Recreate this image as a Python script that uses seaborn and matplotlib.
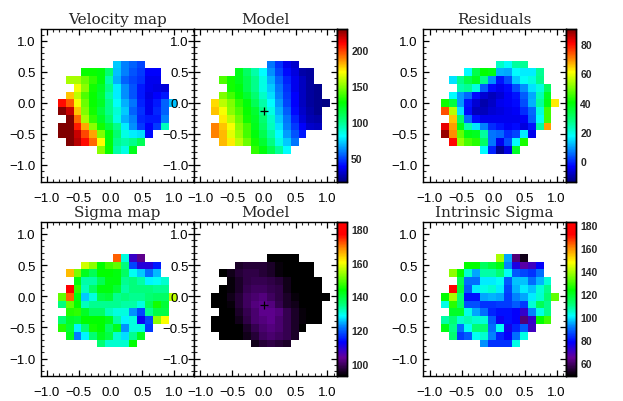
import numpy as np
import pandas as pd
import matplotlib
matplotlib.use('Agg')
import matplotlib.pyplot as plt
from matplotlib.colors import LinearSegmentedColormap
from matplotlib.ticker import NullFormatter
import seaborn as sns

# first column and pixel values of every row of the map (top row first)
row_first = [7, 3, 1, 2, 1, 0, 0, 1, 0, 0, 1, 5]

velocity_map = [
    [72, 60, 55, 50],
    [128, 128, 125, 105, 70, 60, 52, 48, 38, 38],
    [155, 155, 145, 135, 125, 95, 68, 55, 50, 46, 36, 36],
    [167, 150, 130, 120, 100, 78, 62, 52, 42, 36, 34, 32],
    [178, 158, 140, 128, 118, 95, 78, 62, 52, 42, 34, 38, 42],
    [208, 195, 168, 145, 128, 120, 100, 82, 68, 58, 44, 36, 42, 55, 70],
    [228, 218, 178, 148, 130, 115, 100, 88, 72, 55, 46, 36, 45, 55],
    [229, 192, 155, 135, 120, 105, 85, 68, 60, 45, 42, 42, 60],
    [229, 229, 205, 182, 150, 130, 115, 100, 78, 62, 48, 38, 48, 92],
    [229, 229, 218, 198, 183, 148, 125, 105, 85, 78, 75, 40],
    [229, 220, 208, 192, 170, 125, 100, 95, 100, 110],
    [150, 128, 95, 85, 122],
]
velocity_model = [
    [58, 46, 36, 30],
    [122, 108, 95, 80, 62, 50, 40, 33, 24, 22],
    [140, 130, 122, 112, 100, 85, 68, 55, 44, 36, 28, 22],
    [130, 125, 112, 100, 85, 72, 58, 46, 36, 28, 22, 20],
    [148, 138, 128, 118, 105, 90, 75, 60, 48, 38, 28, 22, 20],
    [175, 158, 148, 135, 125, 110, 95, 80, 64, 50, 38, 28, 22, 20, 18],
    [178, 168, 150, 140, 128, 118, 100, 85, 68, 54, 40, 30, 24, 20],
    [172, 158, 145, 130, 120, 105, 90, 72, 58, 44, 32, 26, 24],
    [188, 178, 168, 150, 138, 122, 108, 92, 76, 60, 48, 38, 30, 28],
    [188, 180, 165, 152, 138, 125, 112, 96, 80, 65, 52, 42],
    [180, 172, 158, 145, 130, 118, 102, 85, 72, 58],
    [135, 125, 112, 98, 80],
]
residuals = [
    [22, 18, 25, 26],
    [17, 33, 40, 38, 11, 10, 17, 16, 16, 26],
    [15, 27, 33, 37, 27, 8, -2, 3, 13, 18, 20, 27],
    [24, 26, 20, 4, -3, -5, -3, 3, 8, 15, 20, 31],
    [17, 9, 5, -3, -7, -9, -7, -4, -2, 4, 10, 23, 37],
    [41, 34, 9, -2, -7, -10, -8, -5, -4, -3, 3, 11, 25, 38, 62],
    [74, 55, 15, -3, -9, -9, -7, -6, -5, -4, 0, 5, 20, 45],
    [65, 30, 5, -3, -5, -5, -5, -5, -5, -4, 4, 18, 45],
    [82, 68, 38, 24, 15, 7, 0, -2, -4, -3, -6, -2, 25, 68],
    [88, 69, 48, 38, 37, 25, 6, 5, 0, 2, 16, -5],
    [80, 52, 46, 43, 30, 6, -5, 3, 17, 42],
    [17, -1, -12, -6, 36],
]
sigma_map = [
    [171, 130, 108, 103],
    [157, 153, 144, 148, 150, 135, 118, 110, 110, 115],
    [165, 152, 142, 138, 144, 144, 143, 137, 129, 126, 121, 125],
    [143, 133, 133, 138, 143, 143, 134, 135, 133, 128, 129, 131],
    [177, 147, 132, 137, 143, 143, 140, 133, 135, 135, 135, 134, 134],
    [150, 171, 143, 126, 130, 139, 140, 134, 135, 134, 134, 136, 137, 137, 156],
    [135, 150, 144, 132, 134, 134, 134, 134, 133, 133, 130, 138, 145, 140],
    [146, 147, 141, 137, 137, 132, 130, 130, 123, 118, 134, 139, 139],
    [136, 141, 140, 144, 144, 144, 142, 133, 128, 130, 112, 118, 153, 160],
    [146, 140, 128, 136, 145, 144, 137, 142, 123, 130, 130, 117],
    [142, 122, 128, 136, 142, 139, 131, 127, 134, 142],
    [136, 131, 131, 131, 144],
]
sigma_model = [
    [93, 93, 93, 93],
    [96, 97, 97, 97, 96, 94, 93, 93, 93, 93],
    [93, 95, 97, 98, 98, 97, 96, 94, 93, 93, 93, 93],
    [94, 96, 98, 99, 99, 98, 97, 95, 93, 93, 93, 93],
    [93, 94, 96, 99, 100, 100, 99, 98, 95, 93, 93, 93, 93],
    [93, 93, 95, 97, 100, 101, 102, 100, 98, 96, 94, 93, 93, 93, 93],
    [93, 93, 94, 97, 100, 102, 103, 102, 99, 96, 95, 93, 93, 93],
    [93, 93, 96, 99, 101, 103, 103, 102, 99, 96, 94, 93, 93],
    [93, 93, 93, 95, 98, 101, 102, 103, 101, 99, 96, 94, 93, 93],
    [93, 93, 93, 93, 96, 99, 101, 102, 101, 99, 96, 93],
    [93, 93, 93, 95, 97, 100, 101, 100, 99, 96],
    [95, 97, 98, 97, 96],
]
intrinsic_sigma = [
    [140, 95, 62, 52],
    [124, 124, 114, 118, 122, 92, 75, 67, 70, 78],
    [137, 124, 105, 95, 108, 108, 112, 102, 88, 86, 84, 90],
    [115, 90, 90, 100, 100, 102, 88, 97, 97, 90, 96, 104],
    [172, 118, 88, 100, 103, 105, 100, 86, 96, 100, 97, 104, 110],
    [124, 140, 112, 80, 80, 95, 96, 95, 85, 92, 95, 100, 105, 112, 133],
    [103, 128, 113, 87, 87, 84, 84, 85, 85, 88, 85, 104, 115, 110],
    [120, 120, 103, 95, 90, 82, 80, 80, 78, 72, 92, 103, 110],
    [108, 112, 105, 107, 105, 104, 88, 77, 80, 78, 62, 72, 124, 130],
    [122, 110, 90, 102, 112, 112, 90, 102, 76, 82, 88, 70],
    [112, 85, 88, 102, 105, 92, 82, 78, 90, 103],
    [93, 84, 84, 84, 103],
]

axis_ticks = [-1.0, -0.5, 0.0, 0.5, 1.0]
velocity_ticks = [50, 100, 150, 200]
residual_ticks = [0, 20, 40, 60, 80]
sigma_ticks = [100, 120, 140, 160, 180]
intrinsic_ticks = [60, 80, 100, 120, 140, 160, 180]

W, H = 623, 402
X0, DX = -0.83, 0.125    # left edge and width of a map pixel
Y0, DY = 0.68, 0.125     # top edge and height of a map pixel

blue_red = LinearSegmentedColormap.from_list('blue_red', [
    (0.0, (0, 0, 0.5)), (0.1, (0, 0, 1)), (0.2, (0, 0.5, 1)), (0.3, (0, 1, 1)),
    (0.4, (0, 1, 0.5)), (0.52, (0, 1, 0)), (0.72, (1, 1, 0)), (0.8, (1, 0.55, 0)),
    (0.91, (1, 0, 0)), (1.0, (0.5, 0, 0))])
rainbow = LinearSegmentedColormap.from_list('idl_rainbow', [
    (0.0, (0, 0, 0)), (0.12, (0.4, 0, 0.6)), (0.22, (0, 0, 1)), (0.32, (0, 0.5, 1)),
    (0.39, (0, 1, 1)), (0.46, (0, 1, 0.5)), (0.56, (0, 1, 0)), (0.74, (1, 1, 0)),
    (0.83, (1, 0.55, 0)), (0.92, (1, 0, 0)), (1.0, (1, 0, 0))])

sns.set_style('white')
plt.rcParams['font.family'] = ['Liberation Sans', 'DejaVu Sans']


def to_frame(rows):
    grid = np.full((12, 15), np.nan)
    for r, vals in enumerate(rows):
        grid[r, row_first[r]:row_first[r] + len(vals)] = vals
    return pd.DataFrame(grid)


def px_axes(left, right, top, bottom):
    return fig.add_axes([left / W, 1 - bottom / H, (right - left) / W, (bottom - top) / H])


def draw_panel(rows, box, xlim, title, cmap, vmin, vmax, cbar_box=None, cbar_ticks=None, cross=False):
    ax = px_axes(*box)
    cax = px_axes(*cbar_box) if cbar_box else None
    sns.heatmap(to_frame(rows), ax=ax, cmap=cmap, vmin=vmin, vmax=vmax,
                cbar=cax is not None, cbar_ax=cax,
                xticklabels=False, yticklabels=False)
    # heatmap works in cell numbers, so the arcsec axes are converted to them
    to_cx = lambda v: (np.asarray(v) - X0) / DX
    to_cy = lambda v: (Y0 - np.asarray(v)) / DY
    ax.set_xlim(to_cx(xlim[0]), to_cx(xlim[1]))
    ax.set_ylim(to_cy(-1.28), to_cy(1.19))
    ax.set_xticks(to_cx(axis_ticks))
    ax.set_yticks(to_cy(axis_ticks))
    labels = [f'{t:.1f}'.replace('-', '\u2212') for t in axis_ticks]
    ax.set_xticklabels(labels, fontsize=9.5)
    ax.set_yticklabels(labels, fontsize=9.5)
    minor_x = np.arange(-1.0, 1.35, 0.1)
    minor_y = np.arange(-1.2, 1.2, 0.1)
    ax.set_xticks(to_cx(minor_x[minor_x < xlim[1]]), minor=True)
    ax.set_yticks(to_cy(minor_y), minor=True)
    ax.xaxis.set_minor_formatter(NullFormatter())
    ax.yaxis.set_minor_formatter(NullFormatter())
    ax.tick_params(which='major', direction='in', length=4, width=0.9, top=True, right=True,
                   bottom=True, left=True, colors='black')
    ax.tick_params(axis='x', which='major', pad=7)
    ax.tick_params(axis='y', which='major', pad=4)
    ax.tick_params(which='minor', direction='in', length=2, width=0.8, top=True, right=True,
                   bottom=True, left=True)
    for s in ax.spines.values():
        s.set_visible(True)
        s.set_linewidth(1.0)
        s.set_color('black')
    ax.set_title(title, family='DejaVu Serif', fontsize=11, pad=4)
    if cross:
        ax.plot(to_cx(0.0), to_cy(-0.14), marker='+', color='black', ms=6, mew=0.9)
    if cax is not None:
        cax.set_yticks(cbar_ticks)
        cax.set_yticklabels([str(t) for t in cbar_ticks], fontsize=7.5, fontweight='bold')
        cax.tick_params(direction='in', length=2, width=0.8, pad=3, right=True, left=True)
        for s in cax.spines.values():
            s.set_visible(True)
            s.set_linewidth(1.0)
            s.set_color('black')
    return ax


fig = plt.figure(figsize=(W / 100, H / 100), dpi=100)

top_row = (30, 183)
low_row = (223, 377)

draw_panel(velocity_map, (41, 194, *top_row), (-1.09, 1.31), 'Velocity map', blue_red, 17, 229)
draw_panel(velocity_model, (194, 337, *top_row), (-1.10, 1.15), 'Model', blue_red, 17, 229,
           (337, 347, *top_row), velocity_ticks, cross=True)
draw_panel(residuals, (423, 566, *top_row), (-1.11, 1.15), 'Residuals', blue_red, -14, 90,
           (566, 576, *top_row), residual_ticks)
draw_panel(sigma_map, (41, 194, *low_row), (-1.09, 1.31), 'Sigma map', rainbow, 93, 184)
draw_panel(sigma_model, (194, 337, *low_row), (-1.10, 1.15), 'Model', rainbow, 93, 184,
           (337, 347, *low_row), sigma_ticks, cross=True)
draw_panel(intrinsic_sigma, (423, 566, *low_row), (-1.11, 1.15), 'Intrinsic Sigma', rainbow, 49, 183,
           (566, 576, *low_row), intrinsic_ticks)

plt.savefig('out.png', dpi=100)
